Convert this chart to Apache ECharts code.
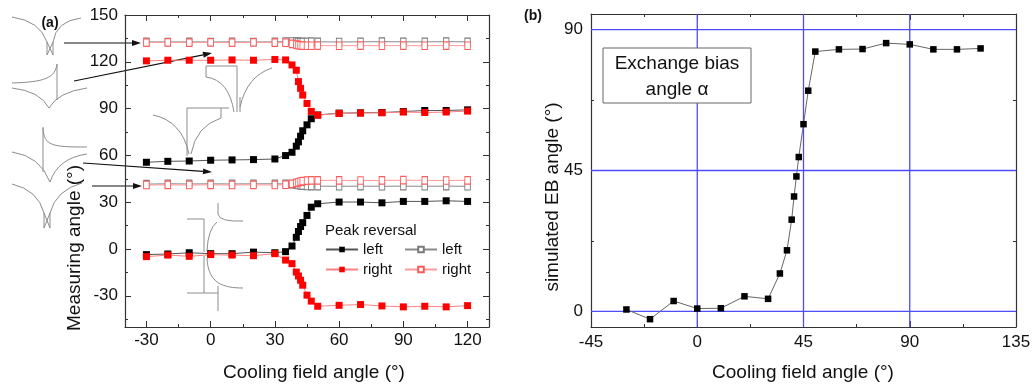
<!DOCTYPE html>
<html>
<head>
<meta charset="utf-8">
<script src="https://cdn.jsdelivr.net/npm/echarts@6/dist/echarts.min.js"></script>
<style>
  html, body { margin: 0; padding: 0; background: #fff; }
  #chart { width: 1033px; height: 387px; }
</style>
</head>
<body>
<div id="chart"></div>
<script>
// Cooling field angles (degrees), shared by both panels
const coolingAngles = [-30, -20, -10, 0, 10, 20, 30, 35, 38, 40, 41, 42, 43, 45, 47, 50, 60, 70, 80, 90, 100, 110, 120];

// (a) measured peak positions, filled symbols: left / right peak, two branches each
const leftUpper  = [55.6, 56.2, 56.4, 56.9, 57.1, 57.3, 57.7, 59.9, 62.0, 65.9, 68.7, 72.3, 75.8, 79.6, 83.5, 85.9, 87.1, 87.3, 87.5, 88.1, 88.8, 88.8, 89.2];
const leftLower  = [-3.6, -3.2, -2.4, -3.0, -3.0, -2.0, -2.4, -1.7, 1.9, 7.5, 11.2, 14.4, 16.9, 21.5, 26.8, 29.0, 30.1, 30.1, 29.6, 30.5, 30.5, 30.9, 30.5];
const rightUpper = [120.6, 121.0, 121.0, 121.0, 121.2, 121.0, 121.5, 121.2, 118.0, 114.6, 107.3, 103.0, 98.7, 93.3, 88.2, 85.8, 86.9, 87.1, 87.3, 87.8, 87.5, 87.8, 88.4];
const rightLower = [-4.9, -3.9, -4.7, -3.6, -3.9, -4.3, -3.0, -7.1, -9.4, -14.8, -17.3, -20.0, -23.2, -29.6, -33.4, -36.7, -36.1, -35.6, -36.5, -37.1, -36.7, -37.1, -36.3];

// (a) open symbols: left / right, upper and middle branches
const openLeftUpper   = [132.8, 132.7, 132.8, 132.7, 132.8, 132.7, 132.8, 132.9, 133.0, 132.9, 132.8, 132.8, 132.7, 132.8, 132.9, 132.8, 132.7, 132.8, 132.9, 132.8, 132.8, 132.9, 132.8];
const openLeftMiddle  = [41.6, 41.8, 41.7, 41.8, 41.7, 41.8, 41.8, 41.7, 41.5, 41.2, 41.0, 40.8, 40.6, 40.4, 40.3, 40.3, 40.2, 40.3, 40.2, 40.3, 40.2, 40.3, 40.2];
const openRightUpper  = [132.3, 132.4, 132.3, 132.4, 132.3, 132.4, 132.3, 132.2, 131.5, 131.0, 130.7, 130.5, 130.4, 130.3, 130.3, 130.4, 130.3, 130.4, 130.3, 130.4, 130.3, 130.4, 130.3];
const openRightMiddle = [41.0, 41.1, 41.0, 41.1, 41.0, 41.1, 41.0, 41.2, 41.8, 42.4, 42.8, 43.2, 43.5, 43.8, 44.0, 44.0, 44.0, 43.9, 44.0, 44.1, 44.0, 43.9, 44.0];

// (b) simulated exchange bias angle alpha
const ebAngle = [0.6, -2.5, 3.3, 0.9, 1.0, 4.8, 4.0, 12.1, 19.5, 29.3, 36.7, 43.1, 49.3, 59.8, 70.5, 83.0, 83.7, 83.8, 85.7, 85.3, 83.7, 83.7, 84.0];

// Ticks
const xMajorA = [-30, 0, 30, 60, 90, 120];
const xMinorA = [-15, 15, 45, 75, 105];
const yMajorA = [-30, 0, 30, 60, 90, 120, 150];
const yMinorA = [-45, -15, 15, 45, 75, 105, 135];
const xMajorB = [-45, 0, 45, 90, 135];
const xMinorB = [-22.5, 22.5, 67.5, 112.5];
const yMajorB = [0, 45, 90];
const yMinorB = [22.5, 67.5];
const gridLinesB = [0, 45, 90];

const FONT = '"Liberation Sans", Arial, sans-serif';
const AXIS_COLOR = '#333';
const TEXT_COLOR = '#111';
const GRID_BLUE = '#4d4dff';

// Join branches of one series, broken by an empty point so they stay separate lines
function branches() {
  const out = [];
  Array.from(arguments).forEach((vals, i) => {
    if (i) out.push(['-', '-']);
    vals.forEach((v, j) => out.push([coolingAngles[j], v]));
  });
  return out;
}

// Framed axes: major ticks + labels on one side, mirrored ticks on the other, and minor ticks
function axesFor(dim, gridIndex, min, max, major, minor, labelMargin) {
  const sides = dim === 'x' ? ['bottom', 'top'] : ['left', 'right'];
  const tickStyle = { color: AXIS_COLOR, width: 1 };
  const base = () => ({
    type: 'value', gridIndex, min, max,
    splitLine: { show: false }, minorSplitLine: { show: false }, minorTick: { show: false },
    axisPointer: { show: false }
  });
  const list = [];
  sides.forEach((pos, k) => {
    list.push(Object.assign(base(), {
      position: pos,
      axisLine: { show: true, onZero: false, lineStyle: { color: AXIS_COLOR, width: 1.2 } },
      axisTick: { show: true, inside: true, length: 6, customValues: major, lineStyle: tickStyle },
      axisLabel: {
        show: k === 0, customValues: major, margin: labelMargin,
        fontSize: 17, color: TEXT_COLOR, fontFamily: FONT
      }
    }));
  });
  sides.forEach(pos => {
    list.push(Object.assign(base(), {
      position: pos,
      axisLine: { show: false, onZero: false },
      axisTick: { show: true, inside: true, length: 3, customValues: minor, lineStyle: tickStyle },
      axisLabel: { show: false }
    }));
  });
  return list;
}

const xAxes = axesFor('x', 0, -40, 130, xMajorA, xMinorA, 5).concat(axesFor('x', 1, -45, 135, xMajorB, xMinorB, 7));
const yAxes = axesFor('y', 0, -50, 150, yMajorA, yMinorA, 7).concat(axesFor('y', 1, -5, 95, yMajorB, yMinorB, 8));

function lineSeries(name, data, color, lineColor, open, z) {
  return {
    name, type: 'line', xAxisIndex: 0, yAxisIndex: 0, data, z,
    symbol: 'rect', symbolSize: open ? [5.5, 7.5] : 7,
    connectNulls: false,
    lineStyle: { color: lineColor, width: 1 },
    itemStyle: open ? { color: '#fff', borderColor: color, borderWidth: 1 } : { color: color, borderWidth: 0 },
    emphasis: { disabled: true },
    animation: false
  };
}

const series = [
  lineSeries('left', branches(leftUpper, leftLower), '#000', '#555', false, 3),
  lineSeries('left, open', branches(openLeftUpper, openLeftMiddle), '#7a7a7a', '#8a8a8a', true, 4),
  lineSeries('right', branches(rightUpper, rightLower), '#ff0000', '#ff8080', false, 5),
  lineSeries('right, open', branches(openRightUpper, openRightMiddle), '#ff5a5a', '#ff9a9a', true, 6),
  {
    name: 'alpha', type: 'line', xAxisIndex: 4, yAxisIndex: 4, z: 60,
    data: coolingAngles.map((x, i) => [x, ebAngle[i]]),
    symbol: 'rect', symbolSize: 6.5,
    lineStyle: { color: '#666', width: 1 },
    itemStyle: { color: '#000' },
    emphasis: { disabled: true },
    animation: false
  }
];

// --- sketches of the resonance peaks and the arrows pointing at their branches ---
const INK = '#8c8c8c';
function curve(x1, y1, cx, cy, x2, y2) {
  return { type: 'bezierCurve', shape: { x1, y1, cpx1: cx, cpy1: cy, x2, y2 }, style: { stroke: INK, lineWidth: 1, fill: null } };
}
function cubic(x1, y1, c1x, c1y, c2x, c2y, x2, y2) {
  return { type: 'bezierCurve', shape: { x1, y1, cpx1: c1x, cpy1: c1y, cpx2: c2x, cpy2: c2y, x2, y2 }, style: { stroke: INK, lineWidth: 1, fill: null } };
}
function poly(points) {
  return { type: 'polyline', shape: { points }, style: { stroke: INK, lineWidth: 1, fill: null } };
}
function arrow(x1, y1, x2, y2) {
  const a = Math.atan2(y2 - y1, x2 - x1), L = 9, W = 3;
  const bx = x2 - L * Math.cos(a), by = y2 - L * Math.sin(a);
  return [
    { type: 'line', shape: { x1, y1, x2: bx, y2: by }, style: { stroke: '#111', lineWidth: 1.2 } },
    { type: 'polygon', shape: { points: [[x2, y2], [bx - W * Math.sin(a), by + W * Math.cos(a)], [bx + W * Math.sin(a), by - W * Math.cos(a)]] }, style: { fill: '#111' } }
  ];
}
function text(str, x, y, size, opts) {
  opts = opts || {};
  return {
    type: 'text', x, y, rotation: opts.rotation || 0, z: 100,
    style: {
      text: str, fontSize: size, fontFamily: FONT, fontWeight: opts.bold ? 'bold' : 'normal',
      fill: TEXT_COLOR, textAlign: opts.align || 'center', textVerticalAlign: 'middle'
    }
  };
}

const sketches = [
  // double cusp (top left)
  curve(12, 17, 40, 21, 47, 42), curve(81, 18, 56, 21, 53, 42),
  poly([[47, 42], [47, 55], [53, 42], [53, 55], [47, 42]]),
  // single spike over a cusp
  cubic(12, 83, 45, 82, 55, 78, 57, 64), poly([[57, 64], [57, 100]]),
  curve(12, 88, 40, 91, 49, 108), curve(49, 108, 58, 92, 87, 88),
  // downward spike over a cusp
  poly([[43, 127], [43, 172]]), cubic(43, 128, 44, 146, 52, 147, 87, 147),
  curve(12, 152, 40, 156, 50, 182), curve(50, 182, 58, 158, 87, 154),
  // double cusp (lower left)
  curve(12, 184, 38, 190, 44, 213), curve(82, 183, 56, 190, 50, 213),
  poly([[44, 213], [44, 228], [50, 213], [50, 228], [44, 213]]),
  // stepped cusp near the upper red branch
  poly([[206, 77], [206, 66], [237, 66], [237, 112]]),
  curve(206, 77, 229, 80, 234, 112), curve(272, 68, 247, 76, 240, 107),
  poly([[240, 97], [240, 112]]),
  // stepped cusp near the upper black branch
  poly([[229, 108], [187, 108], [187, 156]]), poly([[221, 108], [221, 118]]),
  curve(221, 118, 196, 126, 191, 154), curve(153, 115, 182, 121, 189, 154),
  // mirrored spikes crossing zero
  poly([[187, 219], [204, 219], [204, 252]]), poly([[218, 203], [218, 214]]),
  curve(218, 214, 219, 222, 243, 221), curve(217, 222, 208, 229, 207, 251),
  poly([[187, 293], [218, 293]]), poly([[218, 286], [218, 311]]), poly([[204, 256], [204, 293]]),
  cubic(207, 258, 208, 284, 224, 288, 243, 288)
];

const arrows = [].concat(
  arrow(64, 43, 141, 43),
  arrow(74, 81, 212, 53),
  arrow(83, 163, 212, 172),
  arrow(92, 186, 142, 186)
);

const labels = [
  text('(a)', 50, 23, 14, { bold: true }),
  text('(b)', 533, 16, 14, { bold: true }),
  text('Measuring angle (°)', 75, 248, 19, { rotation: Math.PI / 2 }),
  text('Cooling field angle (°)', 314, 373, 19),
  text('simulated EB angle (°)', 553, 197, 19, { rotation: Math.PI / 2 }),
  text('Cooling field angle (°)', 803, 373, 19),
  text('Peak reversal', 325, 231, 15, { align: 'left' }),
  { type: 'rect', z: 99, shape: { x: 603, y: 48, width: 148, height: 55 }, style: { fill: '#fff', stroke: '#666', lineWidth: 1 } },
  text('Exchange bias', 677, 63.5, 19),
  text('angle α', 677, 89.5, 19)
];

const legendCommon = {
  orient: 'vertical', top: 242, padding: 0, itemWidth: 32, itemHeight: 7, itemGap: 5,
  selectedMode: false,
  textStyle: { fontSize: 15, color: TEXT_COLOR, fontFamily: FONT }
};

const option = {
  animation: false,
  backgroundColor: '#fff',
  textStyle: { fontFamily: FONT },
  grid: [
    { left: 125, top: 15, width: 364, height: 312, outerBoundsMode: 'none', containLabel: false },
    { left: 591, top: 14, width: 425, height: 313, outerBoundsMode: 'none', containLabel: false }
  ],
  xAxis: xAxes,
  yAxis: yAxes,
  legend: [
    Object.assign({}, legendCommon, { left: 325, data: ['left', 'right'] }),
    Object.assign({}, legendCommon, { left: 404, data: ['left, open', 'right, open'], formatter: n => n.replace(', open', '') })
  ],
  graphic: { elements: sketches.concat(arrows, labels) },
  series
};

const chart = echarts.init(document.getElementById('chart'), null, { renderer: 'canvas' });
chart.setOption(option);

// Blue reference lines of panel (b), placed through the panel's own axes
const finder = { xAxisIndex: 4, yAxisIndex: 4 };
const [bx0, by1] = chart.convertToPixel(finder, [-45, -5]);
const [bx1, by0] = chart.convertToPixel(finder, [135, 95]);
const refLines = [];
gridLinesB.forEach(v => {
  const x = chart.convertToPixel(finder, [v, 0])[0];
  refLines.push({ type: 'line', z: 50, silent: true, shape: { x1: x, y1: by0, x2: x, y2: by1 }, style: { stroke: GRID_BLUE, lineWidth: 1.3 } });
  const y = chart.convertToPixel(finder, [0, v])[1];
  refLines.push({ type: 'line', z: 50, silent: true, shape: { x1: bx0, y1: y, x2: bx1, y2: y }, style: { stroke: GRID_BLUE, lineWidth: 1.3 } });
});
chart.setOption({ graphic: { elements: sketches.concat(arrows, labels, refLines) } });
</script>
</body>
</html>
